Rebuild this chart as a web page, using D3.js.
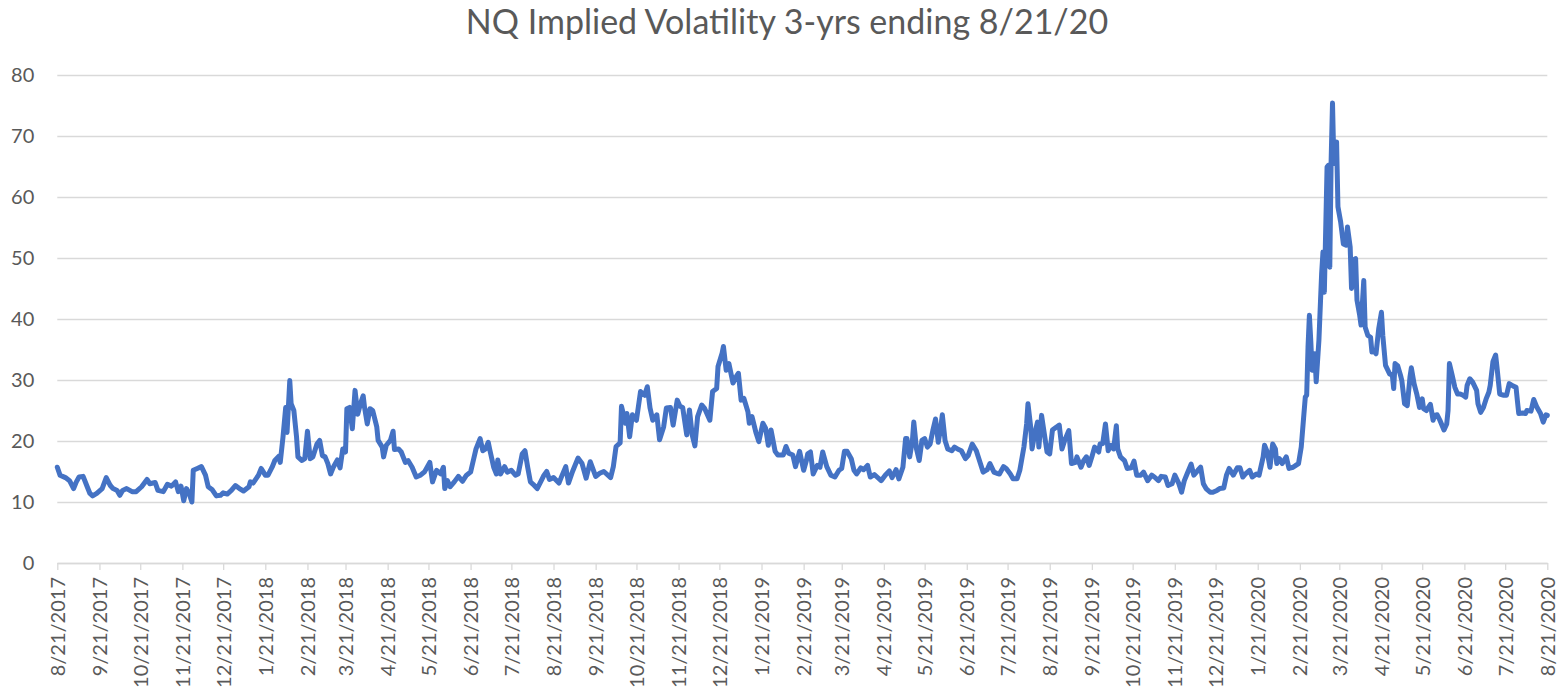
<!DOCTYPE html>
<html>
<head>
<meta charset="utf-8">
<script src="https://cdn.jsdelivr.net/npm/d3@7"></script>
<style>
  body { margin: 0; background: #fff; }
  svg { display: block; font-family: Lato, "Open Sans", sans-serif; }
</style>
</head>
<body>
<div id="chart"></div>
<script>
const title = "NQ Implied Volatility 3-yrs ending 8/21/20";

const yTicks = [0, 10, 20, 30, 40, 50, 60, 70, 80];

const xTickLabels = [
  "8/21/2017", "9/21/2017", "10/21/2017", "11/21/2017", "12/21/2017",
  "1/21/2018", "2/21/2018", "3/21/2018", "4/21/2018", "5/21/2018", "6/21/2018",
  "7/21/2018", "8/21/2018", "9/21/2018", "10/21/2018", "11/21/2018", "12/21/2018",
  "1/21/2019", "2/21/2019", "3/21/2019", "4/21/2019", "5/21/2019", "6/21/2019",
  "7/21/2019", "8/21/2019", "9/21/2019", "10/21/2019", "11/21/2019", "12/21/2019",
  "1/21/2020", "2/21/2020", "3/21/2020", "4/21/2020", "5/21/2020", "6/21/2020",
  "7/21/2020", "8/21/2020"
];

// roughly every 2-3 days plus the turning points
const dates = [
  "2017-08-21","2017-08-23","2017-08-27","2017-08-30",
  "2017-09-02","2017-09-04","2017-09-06","2017-09-09","2017-09-12","2017-09-14","2017-09-16","2017-09-19","2017-09-23","2017-09-26","2017-09-29",
  "2017-10-01","2017-10-04","2017-10-06","2017-10-08","2017-10-11","2017-10-15","2017-10-18","2017-10-22","2017-10-26","2017-10-28",
  "2017-11-01","2017-11-03","2017-11-07","2017-11-10","2017-11-13","2017-11-16","2017-11-18","2017-11-20","2017-11-22","2017-11-24","2017-11-26","2017-11-28","2017-11-29",
  "2017-12-02","2017-12-05","2017-12-08","2017-12-10","2017-12-13","2017-12-16","2017-12-19","2017-12-21","2017-12-24","2017-12-27","2017-12-30",
  "2018-01-02","2018-01-05","2018-01-09","2018-01-10","2018-01-12","2018-01-16","2018-01-18","2018-01-21","2018-01-23","2018-01-26","2018-01-28","2018-01-31",
  "2018-02-01","2018-02-03","2018-02-05","2018-02-06","2018-02-08","2018-02-09","2018-02-11","2018-02-13","2018-02-14","2018-02-17","2018-02-19","2018-02-21","2018-02-23","2018-02-25","2018-02-28",
  "2018-03-02","2018-03-04","2018-03-06","2018-03-08","2018-03-10","2018-03-12","2018-03-15","2018-03-17","2018-03-19","2018-03-21","2018-03-22","2018-03-24","2018-03-26","2018-03-28","2018-03-30",
  "2018-04-01","2018-04-03","2018-04-04","2018-04-06","2018-04-08","2018-04-10","2018-04-13","2018-04-14","2018-04-17","2018-04-18","2018-04-20","2018-04-23","2018-04-25","2018-04-26","2018-04-29",
  "2018-05-01","2018-05-04","2018-05-06","2018-05-09","2018-05-12","2018-05-15","2018-05-18","2018-05-22","2018-05-24","2018-05-27","2018-05-30",
  "2018-06-01","2018-06-02","2018-06-04","2018-06-06","2018-06-09","2018-06-12","2018-06-15","2018-06-18","2018-06-21","2018-06-23","2018-06-25","2018-06-28","2018-06-30",
  "2018-07-02","2018-07-04","2018-07-05","2018-07-08","2018-07-10","2018-07-11","2018-07-13","2018-07-16","2018-07-18","2018-07-21","2018-07-24","2018-07-26","2018-07-29","2018-07-31",
  "2018-08-02","2018-08-04","2018-08-06","2018-08-09","2018-08-12","2018-08-14","2018-08-16","2018-08-18","2018-08-21","2018-08-25","2018-08-27","2018-08-30",
  "2018-09-01","2018-09-04","2018-09-08","2018-09-11","2018-09-14","2018-09-17","2018-09-21","2018-09-24","2018-09-27",
  "2018-10-02","2018-10-04","2018-10-06","2018-10-09","2018-10-10","2018-10-13","2018-10-14","2018-10-16","2018-10-18","2018-10-21","2018-10-24","2018-10-27","2018-10-29","2018-10-31",
  "2018-11-02","2018-11-05","2018-11-07","2018-11-10","2018-11-12","2018-11-15","2018-11-17","2018-11-20","2018-11-22","2018-11-24","2018-11-27","2018-11-29",
  "2018-12-01","2018-12-03","2018-12-05","2018-12-08","2018-12-10","2018-12-14","2018-12-16","2018-12-19","2018-12-20","2018-12-23","2018-12-24","2018-12-26","2018-12-28","2018-12-31",
  "2019-01-03","2019-01-04","2019-01-06","2019-01-08","2019-01-11","2019-01-12","2019-01-14","2019-01-17","2019-01-19","2019-01-22","2019-01-24","2019-01-26","2019-01-28","2019-01-31",
  "2019-02-02","2019-02-06","2019-02-08","2019-02-10","2019-02-13","2019-02-15","2019-02-18","2019-02-21","2019-02-23","2019-02-24","2019-02-26","2019-02-28",
  "2019-03-03","2019-03-05","2019-03-07","2019-03-10","2019-03-13","2019-03-16","2019-03-19","2019-03-21","2019-03-23","2019-03-25","2019-03-28","2019-03-30",
  "2019-04-01","2019-04-04","2019-04-06","2019-04-09","2019-04-11","2019-04-14","2019-04-16","2019-04-19","2019-04-22","2019-04-25","2019-04-27","2019-04-30",
  "2019-05-02","2019-05-05","2019-05-07","2019-05-08","2019-05-10","2019-05-12","2019-05-13","2019-05-15","2019-05-17","2019-05-19","2019-05-21","2019-05-23","2019-05-25","2019-05-27","2019-05-29","2019-05-31",
  "2019-06-02","2019-06-03","2019-06-05","2019-06-07","2019-06-10","2019-06-12","2019-06-15","2019-06-17","2019-06-20","2019-06-22","2019-06-25","2019-06-28",
  "2019-07-01","2019-07-03","2019-07-06","2019-07-08","2019-07-11","2019-07-13","2019-07-15","2019-07-18","2019-07-20","2019-07-23","2019-07-25","2019-07-28","2019-07-30",
  "2019-08-02","2019-08-04","2019-08-05","2019-08-07","2019-08-08","2019-08-10","2019-08-12","2019-08-13","2019-08-15","2019-08-17","2019-08-19","2019-08-21","2019-08-23","2019-08-26","2019-08-28","2019-08-30",
  "2019-09-01","2019-09-04","2019-09-06","2019-09-09","2019-09-10","2019-09-13","2019-09-15","2019-09-17","2019-09-19","2019-09-21","2019-09-23","2019-09-26","2019-09-27","2019-09-29",
  "2019-10-01","2019-10-03","2019-10-05","2019-10-07","2019-10-09","2019-10-10","2019-10-12","2019-10-15","2019-10-17","2019-10-20","2019-10-22","2019-10-24","2019-10-27","2019-10-29",
  "2019-11-01","2019-11-04","2019-11-06","2019-11-09","2019-11-11","2019-11-14","2019-11-16","2019-11-19","2019-11-21","2019-11-24","2019-11-26","2019-11-28","2019-11-30",
  "2019-12-03","2019-12-05","2019-12-08","2019-12-10","2019-12-12","2019-12-14","2019-12-17","2019-12-19","2019-12-22","2019-12-24","2019-12-27","2019-12-29","2019-12-31",
  "2020-01-03","2020-01-06","2020-01-08","2020-01-10","2020-01-12","2020-01-15","2020-01-17","2020-01-20","2020-01-22","2020-01-25","2020-01-26","2020-01-28","2020-01-30",
  "2020-02-01","2020-02-03","2020-02-04","2020-02-06","2020-02-08","2020-02-11","2020-02-13","2020-02-16","2020-02-18","2020-02-20","2020-02-22","2020-02-24","2020-02-25","2020-02-26","2020-02-27","2020-02-28","2020-02-29",
  "2020-03-01","2020-03-03","2020-03-04","2020-03-06","2020-03-07","2020-03-08","2020-03-09","2020-03-10","2020-03-12","2020-03-13","2020-03-14","2020-03-15","2020-03-16","2020-03-17","2020-03-18","2020-03-19","2020-03-20","2020-03-22","2020-03-24","2020-03-26","2020-03-27","2020-03-29","2020-03-30","2020-03-31",
  "2020-04-02","2020-04-03","2020-04-05","2020-04-06","2020-04-08","2020-04-09","2020-04-11","2020-04-13","2020-04-14","2020-04-15","2020-04-17","2020-04-19","2020-04-21","2020-04-22","2020-04-24","2020-04-27","2020-04-29","2020-04-30",
  "2020-05-01","2020-05-03","2020-05-05","2020-05-06","2020-05-08","2020-05-10","2020-05-12","2020-05-13","2020-05-15","2020-05-17","2020-05-19","2020-05-21","2020-05-22","2020-05-24","2020-05-27","2020-05-29","2020-05-30",
  "2020-06-01","2020-06-03","2020-06-06","2020-06-08","2020-06-09","2020-06-10","2020-06-12","2020-06-14","2020-06-16","2020-06-18","2020-06-20","2020-06-22","2020-06-23","2020-06-25","2020-06-27","2020-06-30",
  "2020-07-01","2020-07-03","2020-07-05","2020-07-07","2020-07-09","2020-07-10","2020-07-12","2020-07-14","2020-07-15","2020-07-17","2020-07-20","2020-07-22","2020-07-24","2020-07-27","2020-07-29","2020-07-30","2020-07-31",
  "2020-08-03","2020-08-05","2020-08-06","2020-08-09","2020-08-11","2020-08-13","2020-08-14","2020-08-16","2020-08-18","2020-08-20","2020-08-21"
];

const values = [
  15.7,14.4,14.0,13.5,
  12.2,13.3,14.1,14.2,12.5,11.4,11.0,11.4,12.2,14.0,12.7,
  12.2,11.9,11.1,11.9,12.2,11.7,11.7,12.5,13.7,13.0,
  13.2,11.9,11.7,12.9,12.6,13.3,11.7,12.6,10.2,12.2,11.4,10.0,15.2,
  15.5,15.8,14.4,12.5,12.0,11.0,11.1,11.5,11.3,11.9,12.7,
  12.2,11.8,12.5,13.3,13.1,14.4,15.5,14.4,14.4,15.7,16.8,17.5,
  16.5,20.6,25.5,21.4,29.9,26.1,25.0,20.6,17.4,16.8,17.1,21.6,17.1,17.4,19.5,
  20.1,17.6,17.4,16.3,14.6,15.7,16.9,15.6,18.7,18.2,25.3,25.5,22.0,28.3,24.4,
  26.1,27.4,25.5,22.8,25.3,25.0,22.3,20.1,19.0,17.4,19.3,20.1,21.6,18.6,18.7,
  18.2,16.5,16.8,15.7,14.1,14.4,14.9,16.5,13.3,15.2,14.6,
  15.7,12.2,13.5,12.5,13.3,14.2,13.4,14.4,14.9,16.8,18.7,20.4,18.4,
  18.7,19.8,18.7,15.7,14.6,16.9,14.6,15.8,14.9,15.2,14.4,14.6,17.9,18.4,
  15.7,13.3,12.9,12.2,13.5,14.4,15.0,13.7,14.0,13.1,14.2,15.8,
  13.1,15.0,17.2,16.3,13.9,16.6,14.2,14.7,15.0,
  14.0,15.8,19.1,19.7,25.7,22.9,24.5,20.7,24.3,23.4,28.1,27.5,28.9,25.4,
  23.4,24.3,20.2,22.3,25.4,25.5,22.6,26.7,25.7,25.5,21.0,25.1,
  21.0,19.2,24.0,25.9,25.4,23.4,28.1,28.6,32.2,34.4,35.5,31.6,32.7,29.5,
  30.8,31.1,26.7,27.0,24.8,22.9,24.0,21.3,19.9,22.9,22.1,19.3,21.8,18.3,
  17.7,17.7,19.1,18.0,17.7,15.8,18.3,15.2,16.8,17.9,18.2,14.6,
  16.0,15.7,18.2,15.8,14.4,14.1,15.2,15.5,18.3,18.3,17.1,15.2,
  14.6,15.6,15.3,16.0,14.1,14.5,14.1,13.5,14.4,15.1,14.0,15.3,
  13.8,15.7,20.4,20.4,17.4,20.1,23.1,18.7,16.8,20.1,20.4,19.0,19.5,21.7,23.6,19.8,
  22.5,24.3,20.1,18.7,18.4,19.0,18.6,18.4,17.1,17.6,19.5,18.4,
  16.3,14.9,15.3,16.3,14.9,14.7,14.6,15.8,15.5,14.6,13.8,13.8,15.2,
  19.0,22.8,26.1,22.3,18.7,21.2,23.1,19.0,24.2,21.2,18.2,17.9,21.8,22.3,22.6,18.7,
  20.1,21.7,16.3,16.5,17.4,15.7,16.8,17.4,16.0,17.4,19.0,18.2,19.5,19.6,
  22.8,18.4,19.3,18.7,22.5,18.7,17.4,16.8,15.5,15.6,16.7,14.4,14.4,14.9,
  13.5,14.4,14.1,13.5,14.2,14.1,12.7,13.0,14.4,13.0,11.6,13.5,14.6,
  16.2,14.4,15.2,15.7,13.0,12.2,11.6,11.6,11.9,12.2,12.3,14.4,15.5,
  14.4,15.6,15.6,14.1,14.6,15.2,14.1,14.6,14.4,17.4,19.3,18.2,15.7,
  19.5,18.7,16.3,17.1,16.3,17.4,15.5,15.7,16.0,16.3,19.0,24.5,27.2,27.5,35.4,40.6,36.5,
  31.6,34.3,29.7,36.5,42.0,47.4,51.0,44.4,64.9,65.2,48.5,66.0,75.4,65.5,68.7,69.0,58.4,55.9,52.3,52.1,55.1,51.8,45.0,49.6,
  49.9,43.1,40.6,39.0,46.3,38.7,37.3,37.0,34.6,34.9,34.3,38.4,41.1,37.3,32.4,31.0,30.8,28.6,
  32.7,32.3,30.8,29.9,26.1,25.8,30.5,32.0,29.4,27.7,25.5,26.9,25.3,25.0,26.0,23.4,24.2,
  24.3,23.4,21.8,22.8,25.0,32.7,30.8,28.8,27.7,27.7,27.5,27.2,29.1,30.2,29.7,28.3,
  26.1,24.7,25.5,26.9,28.0,29.1,33.0,34.1,32.1,27.7,27.5,27.5,29.4,29.0,28.8,26.6,24.5,
  24.6,24.5,25.0,24.9,26.8,25.7,25.3,24.5,23.1,24.3,24.2
];

const width = 1564, height = 695;
const plotLeft = 57.3, plotRight = 1547.3, plotTop = 75, plotBottom = 563;

const parseDay = d3.timeParse("%Y-%m-%d");
const parseTick = d3.timeParse("%m/%d/%Y");
const data = dates.map((d, i) => ({ date: parseDay(d), value: values[i] }));
const tickDates = xTickLabels.map(parseTick);

const svg = d3.select("#chart").append("svg")
  .attr("width", width)
  .attr("height", height);

const x = d3.scaleTime()
  .domain([tickDates[0], tickDates[tickDates.length - 1]])
  .range([plotLeft, plotRight]);

const y = d3.scaleLinear()
  .domain([0, 80])
  .range([plotBottom, plotTop]);

// gridlines + y labels
const yAxis = svg.append("g")
  .attr("transform", `translate(${plotLeft},0)`)
  .call(d3.axisLeft(y).tickValues(yTicks).tickSize(-(plotRight - plotLeft)).tickPadding(23));
yAxis.select(".domain").remove();
yAxis.selectAll(".tick line").attr("stroke", "#d9d9d9").attr("stroke-width", 1.3);
yAxis.selectAll(".tick text")
  .attr("fill", "#595959")
  .style("font-size", "20px")
  .style("font-family", "Lato, sans-serif");

// x axis with monthly ticks
const xAxis = svg.append("g")
  .attr("transform", `translate(0,${plotBottom})`)
  .call(d3.axisBottom(x).tickValues(tickDates).tickSize(7).tickSizeOuter(0)
    .tickFormat((d, i) => xTickLabels[i]));
xAxis.select(".domain").attr("stroke", "#d9d9d9").attr("stroke-width", 1.3);
xAxis.selectAll(".tick line").attr("stroke", "#d9d9d9").attr("stroke-width", 1.3);
xAxis.selectAll(".tick text")
  .attr("fill", "#595959")
  .style("font-size", "20px")
  .style("font-family", "Lato, sans-serif")
  .attr("text-anchor", "end")
  .attr("transform", "rotate(-90)")
  .attr("x", -14)
  .attr("y", 0)
  .attr("dy", "0.35em");

const line = d3.line()
  .x(d => x(d.date))
  .y(d => y(d.value));

svg.append("path")
  .datum(data)
  .attr("d", line)
  .attr("fill", "none")
  .attr("stroke", "#4472C4")
  .attr("stroke-width", 5)
  .attr("stroke-linejoin", "round")
  .attr("stroke-linecap", "round");

svg.append("text")
  .attr("x", 787)
  .attr("y", 34)
  .attr("text-anchor", "middle")
  .attr("fill", "#595959")
  .style("font-size", "34px")
  .style("font-family", "Lato, sans-serif")
  .text(title);
</script>
</body>
</html>
